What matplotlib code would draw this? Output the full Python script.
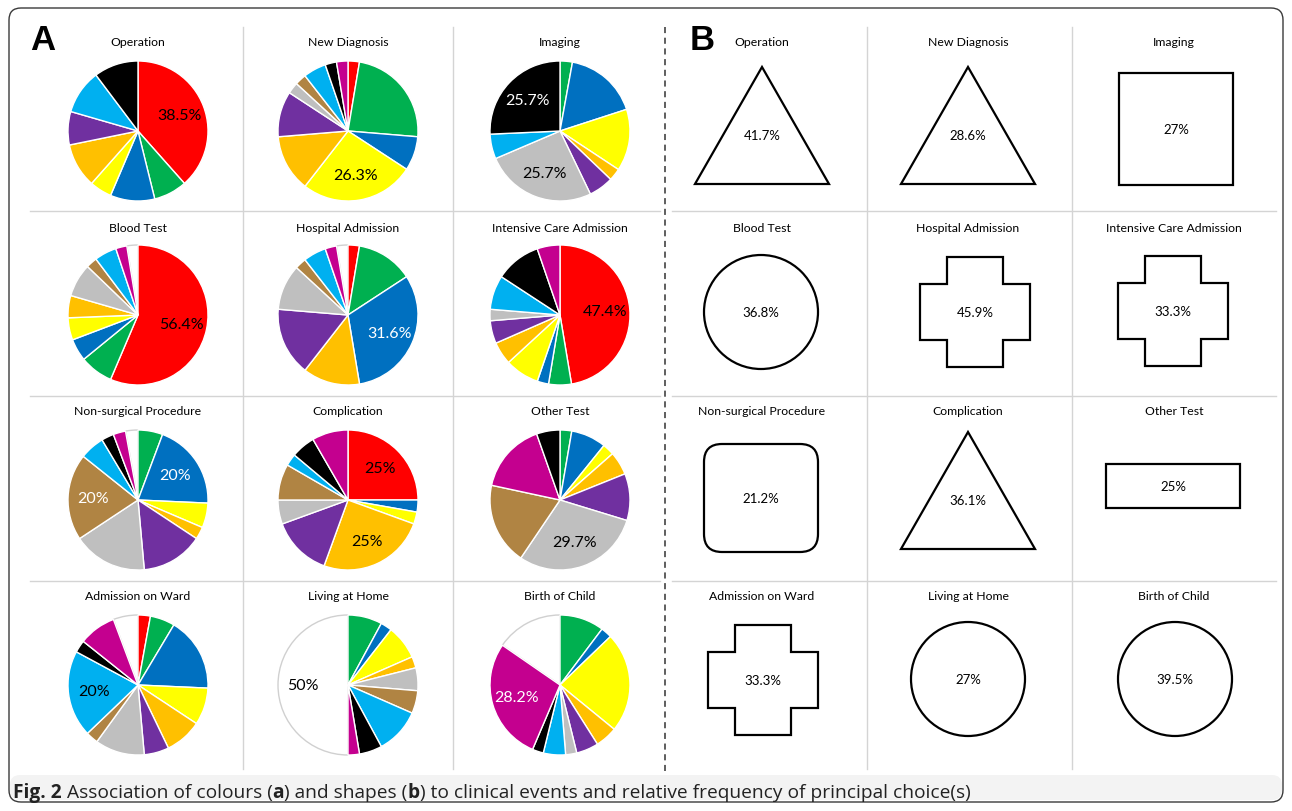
import math
import matplotlib
matplotlib.use("Agg")
import matplotlib.pyplot as plt
from matplotlib.patches import Polygon, Circle, Rectangle, FancyBboxPatch

W, H = 1292, 812
plt.rcParams["font.family"] = ["Lato", "DejaVu Sans"]

# ---- colour categories (clockwise drawing order) ----
colour_names = ["red", "green", "blue", "yellow", "orange", "purple",
                "grey", "brown", "light blue", "black", "magenta", "white"]
colour_hex = ["#FF0000", "#00B050", "#0070C0", "#FFFF00", "#FFC000", "#7030A0",
              "#BFBFBF", "#B08443", "#00B0F0", "#000000", "#C4008F", "#FFFFFF"]
dark_colours = ["blue", "black", "brown", "magenta", "purple"]

# ---- panel A: number of respondents choosing each colour ----
events = ["Operation", "New Diagnosis", "Imaging",
          "Blood Test", "Hospital Admission", "Intensive Care Admission",
          "Non-surgical Procedure", "Complication", "Other Test",
          "Admission on Ward", "Living at Home", "Birth of Child"]

#                 red grn blu yel org pur gry brn lbl blk mag wht
operation       = [15, 3, 4, 2, 4, 3, 0, 0, 4, 4, 0, 0]
new_diagnosis   = [1, 9, 3, 10, 5, 4, 1, 1, 2, 1, 1, 0]
imaging         = [0, 1, 6, 5, 1, 2, 9, 0, 2, 9, 0, 0]
blood_test      = [22, 3, 2, 2, 2, 0, 3, 1, 2, 0, 1, 1]
hospital_adm    = [1, 5, 12, 0, 5, 6, 4, 1, 2, 0, 1, 1]
intensive_care  = [18, 2, 1, 3, 2, 2, 1, 0, 3, 4, 2, 0]
non_surgical    = [0, 2, 7, 2, 1, 5, 6, 7, 2, 1, 1, 1]
complication    = [9, 0, 1, 1, 9, 5, 2, 3, 1, 2, 3, 0]
other_test      = [0, 1, 3, 1, 2, 4, 11, 7, 0, 2, 6, 0]
admission_ward  = [1, 2, 6, 3, 3, 2, 4, 1, 7, 1, 3, 2]
living_home     = [0, 3, 1, 3, 1, 0, 2, 2, 4, 2, 1, 19]
birth_child     = [0, 4, 1, 9, 2, 2, 1, 0, 2, 1, 11, 6]

colour_counts = [operation, new_diagnosis, imaging, blood_test, hospital_adm,
                 intensive_care, non_surgical, complication, other_test,
                 admission_ward, living_home, birth_child]

default_order = list(range(12))
other_test_order = [0, 1, 2, 3, 4, 5, 6, 7, 8, 10, 9, 11]   # magenta before black
slice_orders = [default_order] * 8 + [other_test_order] + [default_order] * 3

# ---- panel B: principal shape choice and its relative frequency ----
shape_kinds = ["triangle", "triangle", "square",
               "circle", "cross", "cross",
               "rounded", "triangle", "rectangle",
               "cross", "circle", "circle"]
shape_pct = [41.7, 28.6, 27, 36.8, 45.9, 33.3, 21.2, 36.1, 25, 33.3, 27, 39.5]


def fmt_pct(v):
    return f"{round(v, 1):g}%"


fig = plt.figure(figsize=(W / 100, H / 100), dpi=100)
bg = fig.add_axes([0, 0, 1, 1])
bg.set_xlim(0, W)
bg.set_ylim(H, 0)
bg.axis("off")

# outer frame and caption band
bg.add_patch(FancyBboxPatch((9, 9), W - 18, H - 18, boxstyle="round,pad=0,rounding_size=12",
                            facecolor="white", edgecolor="#3a3a3a", lw=1.0, zorder=0))
bg.add_patch(FancyBboxPatch((10, 776), W - 20, H - 10 - 776 - 1,
                            boxstyle="round,pad=0,rounding_size=10",
                            facecolor="#F3F3F3", edgecolor="none", zorder=0.5))

grid_c = "#D4D4D4"
# panel A grid
for x in (243, 453):
    bg.plot([x, x], [28, 770], color=grid_c, lw=1)
for y in (212, 397, 582):
    bg.plot([30, 660], [y, y], color=grid_c, lw=1)
# panel B grid
for x in (867, 1072):
    bg.plot([x, x], [28, 770], color=grid_c, lw=1)
for y in (212, 397, 582):
    bg.plot([672, 1276], [y, y], color=grid_c, lw=1)
# separator
bg.plot([665, 665], [28, 772], color="#333333", lw=1.1, ls=(0, (4, 3)))

bg.text(30, 40, "A", fontsize=25, fontweight="bold", family="Liberation Sans",
        ha="left", va="center")
bg.text(690, 40, "B", fontsize=25, fontweight="bold", family="Liberation Sans",
        ha="left", va="center")

col_a = [138, 348, 560]
row_a = [132, 316, 501, 686]
title_y = [43, 228, 412, 597]
R = 70

for i, ev in enumerate(events):
    r, c = divmod(i, 3)
    cx, cy = col_a[c], row_a[r]
    bg.text(cx, title_y[r], ev, ha="center", va="center", fontsize=8.8)

    counts = colour_counts[i]
    order = [k for k in slice_orders[i] if counts[k] > 0]
    vals = [counts[k] for k in order]
    cols = [colour_hex[k] for k in order]
    total = sum(vals)

    ax = fig.add_axes([(cx - R - 2) / W, 1 - (cy + R + 2) / H, (2 * R + 4) / W, (2 * R + 4) / H])
    wedges, _ = ax.pie(vals, colors=cols, startangle=90, counterclock=False, radius=1,
                       wedgeprops=dict(edgecolor="white", linewidth=1.0))
    for w, k in zip(wedges, order):
        if colour_names[k] == "white":
            w.set_edgecolor("#D0D0D0")
            w.set_zorder(0.5)
    lim = (R + 2) / R
    ax.set_xlim(-lim, lim)
    ax.set_ylim(-lim, lim)
    ax.set_aspect("equal")
    ax.axis("off")

    top = max(vals)
    for w, k, v in zip(wedges, order, vals):
        if v == top:
            mid = math.radians((w.theta1 + w.theta2) / 2)
            tx, ty = 0.64 * math.cos(mid), 0.64 * math.sin(mid)
            tc = "white" if colour_names[k] in dark_colours else "black"
            ax.text(tx, ty, fmt_pct(100 * v / total), ha="center", va="center",
                    fontsize=11.5, color=tc)

# ---- panel B shapes ----
col_b = [762, 968, 1174]
shape_centres = [(762, 127), (968, 127), (1176, 130),
                 (761, 313), (975, 313), (1173, 312),
                 (761, 499), (968, 492), (1173, 487),
                 (763, 681), (968, 680), (1175, 680)]
lw_s = 1.6


def cross_points(cx, cy, a, b):
    return [(cx - b, cy - a), (cx + b, cy - a), (cx + b, cy - b), (cx + a, cy - b),
            (cx + a, cy + b), (cx + b, cy + b), (cx + b, cy + a), (cx - b, cy + a),
            (cx - b, cy + b), (cx - a, cy + b), (cx - a, cy - b), (cx - b, cy - b)]


for i, ev in enumerate(events):
    r, c = divmod(i, 3)
    bg.text(col_b[c], title_y[r], ev, ha="center", va="center", fontsize=8.8)
    cx, cy = shape_centres[i]
    kind = shape_kinds[i]
    ly = cy
    if kind == "triangle":
        p = Polygon([(cx - 67, cy + 58), (cx + 67, cy + 58), (cx, cy - 59)], closed=True)
        ly = cy + 9
    elif kind == "square":
        p = Rectangle((cx - 57, cy - 56), 114, 112)
    elif kind == "circle":
        p = Circle((cx, cy), 57)
    elif kind == "cross":
        p = Polygon(cross_points(cx, cy, 55, 28), closed=True)
    elif kind == "rounded":
        p = FancyBboxPatch((cx - 57, cy - 54), 114, 108,
                           boxstyle="round,pad=0,rounding_size=18")
    else:
        p = Rectangle((cx - 67, cy - 22), 134, 44)
    p.set_facecolor("none")
    p.set_edgecolor("black")
    p.set_linewidth(lw_s)
    bg.add_patch(p)
    bg.text(cx, ly, fmt_pct(shape_pct[i]), ha="center", va="center", fontsize=9.5)

# ---- caption with bold fragments ----
fig.canvas.draw()
renderer = fig.canvas.get_renderer()
pieces = [("Fig. 2", "bold"), (" Association of colours (", "normal"), ("a", "bold"),
          (") and shapes (", "normal"), ("b", "bold"),
          (") to clinical events and relative frequency of principal choice(s)", "normal")]
x = 13
for txt, wt in pieces:
    t = bg.text(x, 793, txt, fontsize=13.8, fontweight=wt, family="Open Sans",
                ha="left", va="center", color="#222222")
    bb = t.get_window_extent(renderer=renderer)
    x += bb.width

fig.savefig("out.png", dpi=100)
